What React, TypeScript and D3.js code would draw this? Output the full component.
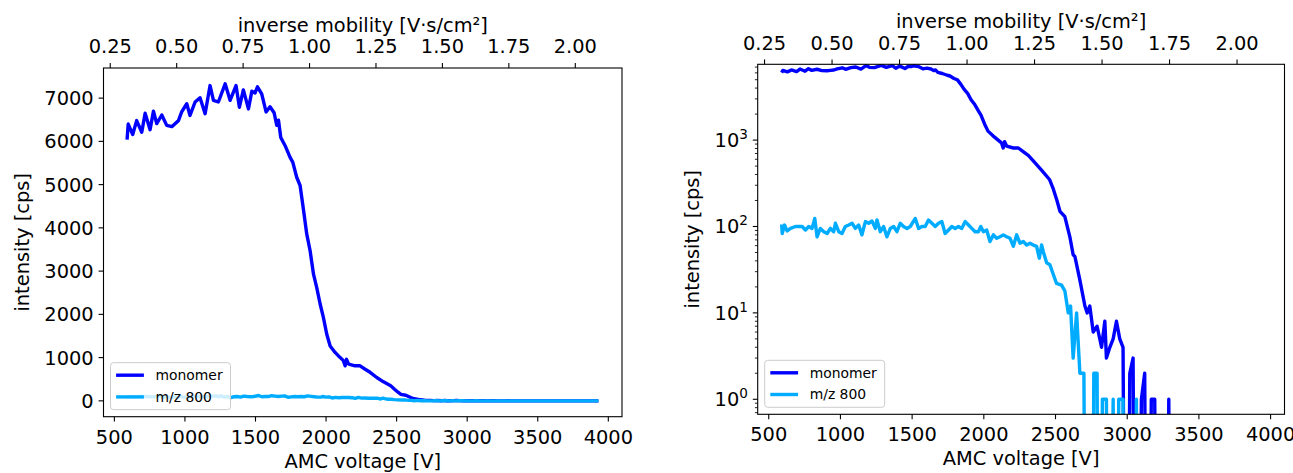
import React from "react";
import * as d3 from "d3";

// AMC voltage -> inverse mobility conversion (V per V·s/cm²)
const VOLTS_PER_INV_MOBILITY = 1883;

const monomerVoltage = [
  590, 598, 630, 658, 694, 718, 753, 777, 800, 836, 871, 907, 930, 954, 977,
  1013, 1036, 1072, 1107, 1143, 1178, 1202, 1237, 1285, 1320, 1362, 1386, 1414,
  1450, 1474, 1497, 1514, 1544, 1575, 1603, 1632, 1651, 1663, 1679, 1710, 1745,
  1764, 1792, 1816, 1840, 1863, 1887, 1911, 1934, 1958, 1981, 2005, 2029, 2064,
  2100, 2123, 2135, 2145, 2160, 2206, 2241, 2277, 2312, 2359, 2407, 2458, 2485,
  2510, 2531, 2565, 2600, 2623, 2635, 2670, 2705, 2721, 2739, 2763, 2790, 2821,
  2844, 2855, 2879, 2902, 2925, 2948, 2971, 2995, 3018, 3041, 3064, 3099, 3122,
  3145, 3168, 3192, 3215, 3268, 3290, 3312, 3930,
];
const monomerIntensity = [
  6040, 6400, 6160, 6480, 6210, 6650, 6270, 6700, 6410, 6610, 6370, 6340, 6410,
  6480, 6680, 6870, 6600, 6910, 7010, 6640, 7290, 6950, 6910, 7330, 6950, 7290,
  6790, 7190, 6750, 7160, 7120, 7260, 7100, 6680, 6800, 6660, 6370, 6490, 6090,
  5900, 5630, 5520, 5170, 4980, 4420, 3860, 3470, 2930, 2620, 2240, 1930, 1540,
  1270, 1120, 1000, 930, 810, 960, 850, 810, 810, 730, 660, 540, 440, 350, 270,
  200, 150, 130, 76, 47, 45, 24, 12, 10, 12, 6, 7, 4, 8, 3, 4, 5, 8, 5, 4, 0, 2,
  3, 0, 1, 2, 0, 1, 1, 0, 0, 1, 0, 0,
];

const mz800Voltage = [
  590, 594, 610, 628, 652, 686, 733, 756, 779, 802, 821, 837, 860, 884, 907,
  930, 953, 965, 988, 1011, 1034, 1058, 1081, 1104, 1127, 1150, 1174, 1197,
  1220, 1243, 1255, 1278, 1301, 1324, 1348, 1371, 1394, 1417, 1440, 1464, 1487,
  1522, 1545, 1568, 1591, 1614, 1638, 1661, 1684, 1707, 1730, 1754, 1777, 1800,
  1823, 1846, 1870, 1893, 1916, 1939, 1962, 1979, 1997, 2020, 2043, 2067, 2090,
  2113, 2136, 2159, 2183, 2206, 2229, 2252, 2275, 2299, 2322, 2345, 2368, 2387,
  2403, 2415, 2438, 2461, 2484, 2507, 2542, 2565, 2589, 2605, 2623, 2647, 2670,
  2698, 2721, 2751, 2767, 2790, 2806, 2827, 2855, 2870, 2902, 2918, 2941, 2971,
  2990, 3045, 3064, 3080, 3930,
];
const mz800Intensity = [
  106, 83, 104, 89, 95, 100, 100, 91, 100, 95, 124, 76, 95, 87, 83, 95, 87, 109,
  87, 83, 100, 104, 109, 95, 104, 80, 114, 109, 116, 95, 119, 87, 100, 76, 95,
  100, 87, 109, 100, 95, 100, 124, 95, 100, 100, 119, 109, 100, 109, 114, 83, 91,
  100, 95, 100, 95, 114, 104, 95, 87, 87, 100, 87, 91, 67, 80, 73, 76, 80, 76,
  73, 59, 80, 64, 67, 61, 64, 61, 59, 43, 61, 51, 38, 36, 28, 22, 21, 18, 10, 12,
  3, 10, 2, 2, 0, 0, 2, 2, 0, 1, 1, 0, 1, 0, 1, 1, 0, 0, 1, 0, 0,
];

const seriesNames = ["monomer", "m/z 800"];
const seriesColors = ["#0000ff", "#00acff"];

const voltageTicks = [500, 1000, 1500, 2000, 2500, 3000, 3500, 4000];
const invMobilityTicks = [0.25, 0.5, 0.75, 1.0, 1.25, 1.5, 1.75, 2.0];
const linearTicks = [0, 1000, 2000, 3000, 4000, 5000, 6000, 7000];
const logTicks = [1, 10, 100, 1000];

const FONT = "DejaVu Sans, sans-serif";
const TICK_FS = 19.4;
const LEGEND_FS = 13.9;
const MAJOR = 4.9;
const MINOR = 2.8;

type Frame = { left: number; right: number; top: number; bottom: number };

const series = [
  { name: seriesNames[0], color: seriesColors[0], xs: monomerVoltage, ys: monomerIntensity },
  { name: seriesNames[1], color: seriesColors[1], xs: mz800Voltage, ys: mz800Intensity },
];

const allX = [...monomerVoltage, ...mz800Voltage];
const xMin = d3.min(allX) as number;
const xMax = d3.max(allX) as number;
const xPad = (xMax - xMin) * 0.05;

function Panel({ id, frame, log, yLabelX }: { id: string; frame: Frame; log: boolean; yLabelX: number }) {
  const x = d3.scaleLinear().domain([xMin - xPad, xMax + xPad]).range([frame.left, frame.right]);
  const xTop = d3
    .scaleLinear()
    .domain(x.domain().map((v) => v / VOLTS_PER_INV_MOBILITY))
    .range([frame.left, frame.right]);

  let y: any;
  if (log) {
    y = d3.scaleLog().domain([0.67, 7540]).range([frame.bottom, frame.top]);
  } else {
    const allY = [...monomerIntensity, ...mz800Intensity];
    const lo = d3.min(allY) as number;
    const hi = d3.max(allY) as number;
    const pad = (hi - lo) * 0.05;
    y = d3.scaleLinear().domain([lo - pad, hi + pad]).range([frame.bottom, frame.top]);
  }

  // zero counts on the log axis are clipped far below the frame, like matplotlib
  const line = d3
    .line<[number, number]>()
    .x((d) => x(d[0]))
    .y((d) => y(log ? Math.max(d[1], 1e-6) : d[1]));

  const [dLo, dHi] = y.domain();
  const minorTicks: number[] = [];
  if (log) {
    for (let e = -1; e <= 4; e++) {
      for (let m = 2; m <= 9; m++) {
        const v = m * Math.pow(10, e);
        if (v >= dLo && v <= dHi) minorTicks.push(v);
      }
    }
  }

  const cx = (frame.left + frame.right) / 2;
  const cy = (frame.top + frame.bottom) / 2;
  const lgX = frame.left + 7;
  const lgB = frame.bottom - 7;

  return (
    <g fontFamily={FONT} fill="#000">
      <defs>
        <clipPath id={id}>
          <rect x={frame.left} y={frame.top} width={frame.right - frame.left} height={frame.bottom - frame.top} />
        </clipPath>
      </defs>

      <g clipPath={`url(#${id})`}>
        {series.map((s) => (
          <path
            key={s.name}
            d={line(s.xs.map((v, i) => [v, s.ys[i]] as [number, number])) || ""}
            fill="none"
            stroke={s.color}
            strokeWidth={3.4}
            strokeLinejoin="round"
          />
        ))}
      </g>

      {/* legend */}
      <g>
        <rect x={lgX} y={lgB - 47} width={120} height={47} rx={3} fill="#fff" fillOpacity={0.8} stroke="#cccccc" strokeWidth={1} />
        {series.map((s, i) => {
          const ry = lgB - (i === 0 ? 34.5 : 12.8);
          return (
            <g key={s.name}>
              <line x1={lgX + 5.6} x2={lgX + 33.4} y1={ry} y2={ry} stroke={s.color} strokeWidth={3.4} />
              <text x={lgX + 45} y={ry + 4.9} fontSize={LEGEND_FS}>
                {s.name}
              </text>
            </g>
          );
        })}
      </g>

      {/* frame */}
      <rect
        x={frame.left}
        y={frame.top}
        width={frame.right - frame.left}
        height={frame.bottom - frame.top}
        fill="none"
        stroke="#000"
        strokeWidth={1.1}
      />

      {/* bottom axis */}
      {voltageTicks.map((t) => (
        <g key={"b" + t}>
          <line x1={x(t)} x2={x(t)} y1={frame.bottom} y2={frame.bottom + MAJOR} stroke="#000" strokeWidth={1.1} />
          <text x={x(t)} y={frame.bottom + 27} textAnchor="middle" fontSize={TICK_FS}>
            {t}
          </text>
        </g>
      ))}
      <text x={cx} y={frame.bottom + 51} textAnchor="middle" fontSize={TICK_FS}>
        AMC voltage [V]
      </text>

      {/* top axis */}
      {invMobilityTicks.map((t) => (
        <g key={"t" + t}>
          <line x1={xTop(t)} x2={xTop(t)} y1={frame.top} y2={frame.top - MAJOR} stroke="#000" strokeWidth={1.1} />
          <text x={xTop(t)} y={frame.top - 14.8} textAnchor="middle" fontSize={TICK_FS}>
            {t.toFixed(2)}
          </text>
        </g>
      ))}
      <text x={cx} y={frame.top - 36.5} textAnchor="middle" fontSize={TICK_FS}>
        inverse mobility [V·s/cm²]
      </text>

      {/* left axis */}
      {(log ? logTicks : linearTicks).map((t) => (
        <g key={"l" + t}>
          <line x1={frame.left} x2={frame.left - MAJOR} y1={y(t)} y2={y(t)} stroke="#000" strokeWidth={1.1} />
          {log ? (
            <text x={frame.left - 9.8} y={y(t) + 7} textAnchor="end" fontSize={TICK_FS}>
              10
              <tspan dy={-8} fontSize={TICK_FS * 0.7}>
                {Math.round(Math.log10(t))}
              </tspan>
            </text>
          ) : (
            <text x={frame.left - 9.8} y={y(t) + 7} textAnchor="end" fontSize={TICK_FS}>
              {t}
            </text>
          )}
        </g>
      ))}
      {minorTicks.map((t) => (
        <line key={"m" + t} x1={frame.left} x2={frame.left - MINOR} y1={y(t)} y2={y(t)} stroke="#000" strokeWidth={0.85} />
      ))}
      <text transform={`translate(${yLabelX},${cy}) rotate(-90)`} textAnchor="middle" fontSize={TICK_FS}>
        intensity [cps]
      </text>
    </g>
  );
}

export default function App() {
  return (
    <svg width={1293} height={473} style={{ position: "absolute", left: 0, top: 0, background: "#fff" }}>
      <rect width={1293} height={473} fill="#fff" />
      <Panel id="clipLin" frame={{ left: 103.5, right: 622, top: 68, bottom: 416.7 }} log={false} yLabelX={28.5} />
      <Panel id="clipLog" frame={{ left: 757.7, right: 1284.5, top: 64.3, bottom: 414.3 }} log={true} yLabelX={699.3} />
    </svg>
  );
}
